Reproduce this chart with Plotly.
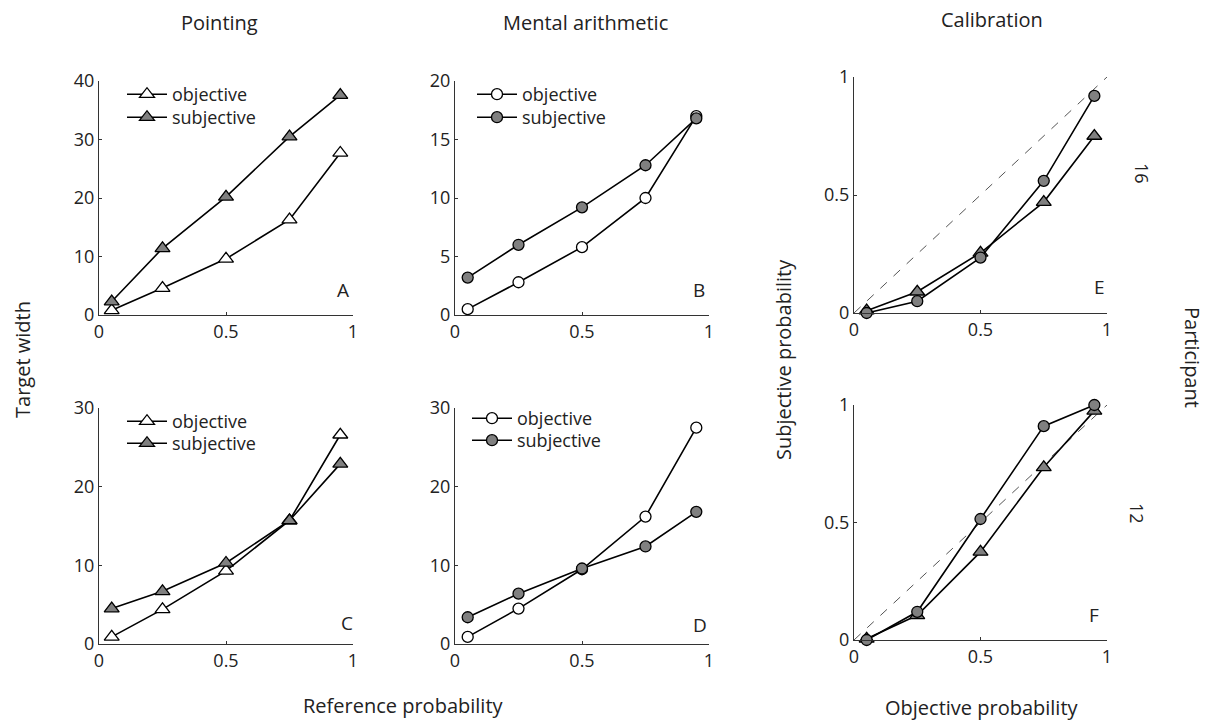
import plotly.graph_objects as go

W, H = 1217, 722
FONT = "Open Sans"
TXT = "#222222"

# ---- data ----
x_ref = [0.05, 0.25, 0.5, 0.75, 0.95]
A_obj = [0.8, 4.6, 9.6, 16.3, 27.7]
A_subj = [2.3, 11.4, 20.2, 30.5, 37.6]
B_obj = [0.5, 2.8, 5.8, 10.0, 17.0]
B_subj = [3.2, 6.0, 9.2, 12.8, 16.8]
C_obj = [0.9, 4.4, 9.3, 15.7, 26.6]
C_subj = [4.5, 6.7, 10.3, 15.7, 22.9]
D_obj = [0.9, 4.5, 9.5, 16.2, 27.5]
D_subj = [3.4, 6.4, 9.6, 12.4, 16.8]
E_arith = [0.0, 0.05, 0.235, 0.56, 0.92]
E_point = [0.01, 0.09, 0.255, 0.47, 0.75]
F_arith = [0.0, 0.12, 0.515, 0.91, 1.0]
F_point = [0.005, 0.105, 0.375, 0.735, 0.975]
diag = [0, 1]

x_ticks = [0, 0.5, 1]
x_ticktext = ["0", "0.5", "1"]
yticks_A = [0, 10, 20, 30, 40]
yticks_B = [0, 5, 10, 15, 20]
yticks_CD = [0, 10, 20, 30]
yticks_EF = [0, 0.5, 1]
yticktext_EF = ["0", "0.5", "1"]

def px_x(p):
    return p / W

def px_y(p):
    return 1 - p / H

# panel geometry in pixels: (left, right, top, bottom)
geom = {
    "A": (99, 353, 81, 315),
    "B": (455, 709, 81, 315),
    "E": (854, 1107, 77, 313),
    "C": (99, 353, 408, 644),
    "D": (455, 709, 408, 644),
    "F": (854, 1107, 405, 640),
}
yinfo = {
    "A": (yticks_A, [str(v) for v in yticks_A], [0, 40]),
    "B": (yticks_B, [str(v) for v in yticks_B], [0, 20]),
    "C": (yticks_CD, [str(v) for v in yticks_CD], [0, 30]),
    "D": (yticks_CD, [str(v) for v in yticks_CD], [0, 30]),
    "E": (yticks_EF, yticktext_EF, [0, 1]),
    "F": (yticks_EF, yticktext_EF, [0, 1]),
}
order = ["A", "B", "C", "D", "E", "F"]

fig = go.Figure()
layout = {}
for i, key in enumerate(order):
    n = "" if i == 0 else str(i + 1)
    l, r, t, b = geom[key]
    yt, ytt, yr = yinfo[key]
    axstyle = dict(showline=True, linecolor="#333333", linewidth=1, ticks="inside",
                   ticklen=3, tickcolor="#333333", showgrid=False, zeroline=False,
                   automargin=False,
                   tickfont=dict(family=FONT, size=18, color=TXT))
    layout["xaxis" + n] = dict(domain=[px_x(l), px_x(r)], range=[0, 1], anchor="y" + n,
                               tickvals=x_ticks, ticktext=x_ticktext, **axstyle)
    layout["yaxis" + n] = dict(domain=[px_y(b), px_y(t)], range=yr, anchor="x" + n,
                               tickvals=yt, ticktext=ytt, **axstyle)

tri = dict(symbol="triangle-up", size=13, line=dict(color="black", width=1.3))
cir = dict(symbol="circle", size=11, line=dict(color="black", width=1.3))
line = dict(color="black", width=1.6)
GREY = "#808080"

def add(x, y, ax, name, marker, legend, show=True):
    n = "" if ax == 1 else str(ax)
    fig.add_trace(go.Scatter(x=x, y=y, xaxis="x" + n, yaxis="y" + n, name=name,
                             mode="lines+markers", line=line, marker=marker,
                             cliponaxis=False, showlegend=show, legend=legend))

# A
add(x_ref, A_obj, 1, "objective", dict(tri, color="white"), "legend")
add(x_ref, A_subj, 1, "subjective", dict(tri, color=GREY), "legend2")
# B
add(x_ref, B_obj, 2, "objective", dict(cir, color="white"), "legend3")
add(x_ref, B_subj, 2, "subjective", dict(cir, color=GREY), "legend4")
# C
add(x_ref, C_obj, 3, "objective", dict(tri, color="white"), "legend5")
add(x_ref, C_subj, 3, "subjective", dict(tri, color=GREY), "legend6")
# D
add(x_ref, D_obj, 4, "objective", dict(cir, color="white"), "legend7")
add(x_ref, D_subj, 4, "subjective", dict(cir, color=GREY), "legend8")
# E, F
for ax, arith, point in [(5, E_arith, E_point), (6, F_arith, F_point)]:
    n = str(ax)
    fig.add_trace(go.Scatter(x=diag, y=diag, xaxis="x" + n, yaxis="y" + n, mode="lines",
                             line=dict(color="#555555", width=1, dash="dash"),
                             showlegend=False, hoverinfo="skip"))
    add(x_ref, point, ax, "pointing", dict(tri, color=GREY), "legend", show=False)
    add(x_ref, arith, ax, "mental arithmetic", dict(cir, color=GREY), "legend", show=False)

def leg(mx, my):
    return dict(x=px_x(mx - 25), y=px_y(my - 19), xanchor="left", yanchor="top",
                bgcolor="rgba(0,0,0,0)", borderwidth=0, tracegroupgap=0, itemwidth=40,
                font=dict(family=FONT, size=18, color=TXT), itemclick=False)

legend_pos = [(147, 95), (147, 118), (497, 95), (497, 118),
              (147, 422), (147, 444), (492, 419), (492, 441)]
for k, (mx, my) in enumerate(legend_pos):
    layout["legend" if k == 0 else "legend" + str(k + 1)] = leg(mx, my)

ann = []
def text(s, x, y, size=20, angle=0):
    ann.append(dict(text=s, x=px_x(x), y=px_y(y), xref="paper", yref="paper",
                    showarrow=False, textangle=angle, xanchor="center", yanchor="middle",
                    font=dict(family=FONT, size=size, color=TXT)))

text("Pointing", 220, 22)
text("Mental arithmetic", 585, 22)
text("Calibration", 992, 20)
text("Target width", 22, 360, angle=-90)
text("Reference probability", 403, 705)
text("Subjective probability", 783, 360, angle=-90)
text("Objective probability", 982, 707)
text("Participant", 1193, 357, angle=90)
text("16", 1142, 173, size=18, angle=90)
text("12", 1137, 513, size=18, angle=90)
for s, x, y in [("A", 343, 290), ("B", 699, 290), ("E", 1099, 287),
                ("C", 347, 623), ("D", 700, 625), ("F", 1094, 615)]:
    text(s, x, y, size=19)

fig.update_layout(width=W, height=H, margin=dict(l=0, r=0, t=0, b=0, pad=0, autoexpand=False),
                  autosize=False, paper_bgcolor="white", plot_bgcolor="white",
                  font=dict(family=FONT, size=17, color=TXT), annotations=ann, **layout)

fig.write_html("out.html")
